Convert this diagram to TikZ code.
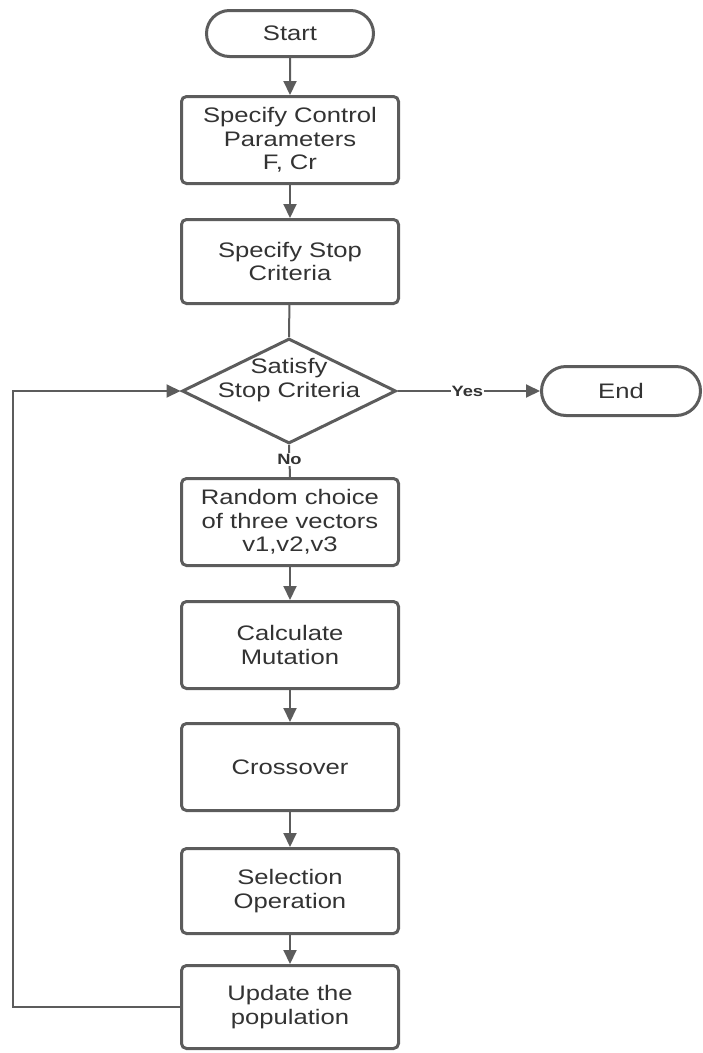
\documentclass[tikz,border=0pt]{standalone}
\usepackage{fontspec}
\setmainfont[FakeStretch=1.22]{Liberation Sans}
\usetikzlibrary{shapes.geometric,shapes.misc,arrows.meta}
\definecolor{lc}{HTML}{5C5C5C}
\definecolor{tc}{HTML}{333333}
\newcommand{\boxfont}{\fontsize{21}{23.5}\selectfont}
\newcommand{\lblfont}{\fontsize{15}{17}\selectfont\bfseries}
\begin{document}
\begin{tikzpicture}[x=1pt,y=-1pt,
  line/.style={draw=lc, line width=2pt},
  arr/.style={line, -{Triangle[length=14pt,width=13pt]}},
  proc/.style={draw=lc, line width=3pt, rounded corners=5pt, fill=white,
    minimum width=217pt, align=center, text=tc, font=\boxfont, inner sep=0pt},
  term/.style={draw=lc, line width=3pt, rounded rectangle, fill=white,
    text=tc, font=\boxfont, inner sep=0pt},
  lbl/.style={fill=white, text=tc, font=\lblfont, inner sep=1pt}
]
\useasboundingbox (0,0) rectangle (703,1053);

% terminators
\node[term, minimum width=167pt, minimum height=46pt] (start) at (290,33.5) {Start};
\node[term, minimum width=159pt, minimum height=49pt] (end) at (621,391) {End};

% process steps
\node[proc, minimum height=87pt] (b1) at (290,140) {Specify Control\\Parameters\\F, Cr};
\node[proc, minimum height=84pt] (b2) at (290,261.5) {Specify Stop\\Criteria};
\node[proc, minimum height=87pt] (b3) at (290,522) {Random choice\\of three vectors\\v1,v2,v3};
\node[proc, minimum height=87pt] (b4) at (290,645) {Calculate\\Mutation};
\node[proc, minimum height=87pt] (b5) at (290,767) {Crossover};
\node[proc, minimum height=85pt] (b6) at (290,891) {Selection\\Operation};
\node[proc, minimum height=83pt] (b7) at (290,1007) {Update the\\population};

% decision
\node[diamond, draw=lc, line width=3pt, fill=white, inner sep=0pt,
  minimum width=214pt, minimum height=105pt] (dia) at (289,391) {};
\node[text=tc, font=\boxfont, align=center] (diatext) at (289,380) {Satisfy\\Stop Criteria};

% connectors
\draw[arr] (start) -- (b1);
\draw[arr] (b1) -- (b2);
\draw[line] (b2) -- (dia.north);
\draw[arr] (dia.east) -- node[lbl, pos=0.49] (yes) {Yes} (end.west);
\draw[line] (dia.south) -- node[lbl, pos=0.45] (no) {No} (b3.north);
\draw[arr] (b3) -- (b4);
\draw[arr] (b4) -- (b5);
\draw[arr] (b5) -- (b6);
\draw[arr] (b6) -- (b7);

% feedback loop
\coordinate (loop) at (13,0);
\draw[arr] (b7.west) -- (b7.west -| loop) -- (dia.west -| loop) -- (dia.west);
\end{tikzpicture}
\end{document}
